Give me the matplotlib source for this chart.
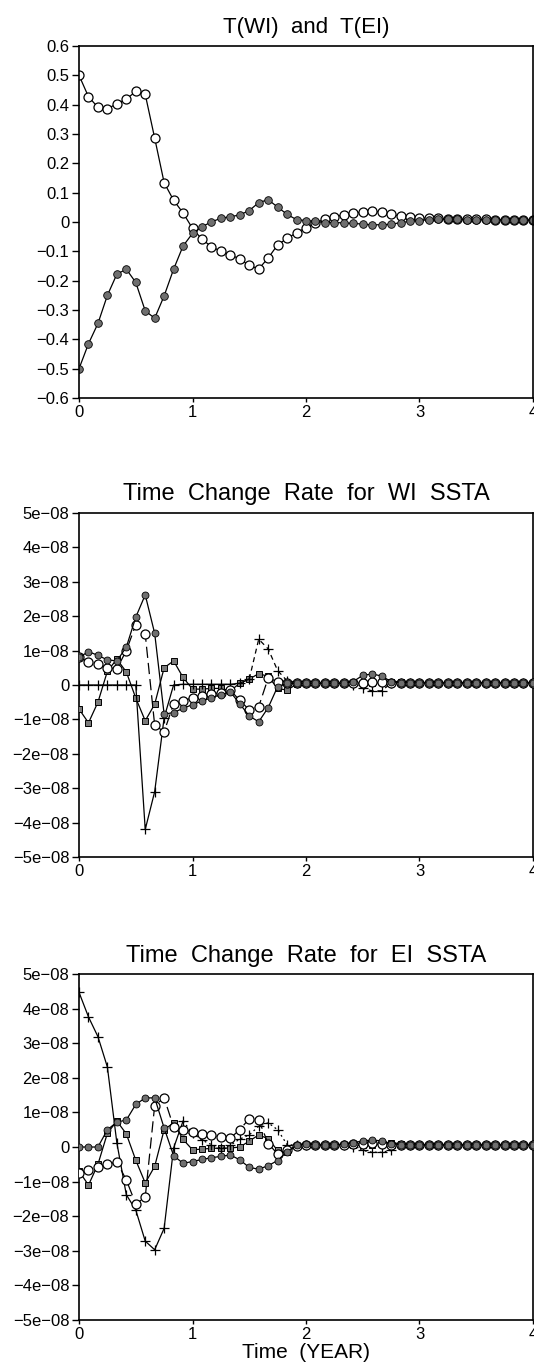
import numpy as np
import matplotlib
matplotlib.use("Agg")
import matplotlib.pyplot as plt
from matplotlib.ticker import FixedLocator, FixedFormatter

plt.rcParams["font.family"] = ["Liberation Sans", "DejaVu Sans"]

# monthly steps over 4 years
months = list(range(49))

# top panel: T(WI) open circles, T(EI) filled circles
t_wi = [0.50, 0.427, 0.391, 0.386, 0.403, 0.419, 0.445, 0.435, 0.286, 0.134, 0.074, 0.031, -0.022,
        -0.059, -0.084, -0.100, -0.112, -0.126, -0.148, -0.160, -0.123, -0.078, -0.056, -0.037, -0.019, -0.002,
        0.009, 0.018, 0.024, 0.030, 0.034, 0.038, 0.033, 0.026, 0.020, 0.016, 0.014, 0.013,
        0.012, 0.011, 0.010, 0.010, 0.009, 0.009, 0.008, 0.008, 0.007, 0.007, 0.006]
t_ei = [-0.50, -0.415, -0.346, -0.250, -0.178, -0.161, -0.206, -0.303, -0.328, -0.252, -0.161, -0.082, -0.039,
        -0.016, 0.000, 0.013, 0.018, 0.024, 0.039, 0.066, 0.076, 0.051, 0.026, 0.008, 0.005, 0.002,
        -0.002, -0.002, -0.003, -0.005, -0.007, -0.010, -0.009, -0.008, -0.002, 0.002, 0.005, 0.008,
        0.009, 0.009, 0.009, 0.008, 0.008, 0.008, 0.007, 0.007, 0.007, 0.007, 0.006]

# middle panel: WI SSTA rate terms (units 1e-08)
wi_total = [0.80, 0.97, 0.86, 0.73, 0.70, 1.10, 1.97, 2.62, 1.50, -0.85, -0.80, -0.68, -0.57,
            -0.47, -0.37, -0.28, -0.20, -0.55, -0.90, -1.07, -0.66, -0.05, 0.05, 0.05, 0.05, 0.05,
            0.05, 0.05, 0.05, 0.10, 0.28, 0.32, 0.26, 0.10, 0.07, 0.06, 0.06, 0.06,
            0.06, 0.06, 0.06, 0.06, 0.06, 0.06, 0.06, 0.06, 0.06, 0.06, 0.06]
wi_open = [0.80, 0.68, 0.60, 0.50, 0.47, 1.00, 1.75, 1.48, -1.17, -1.36, -0.55, -0.46, -0.37,
           -0.32, -0.27, -0.22, -0.15, -0.45, -0.72, -0.63, 0.20, 0.10, 0.06, 0.05, 0.05, 0.05,
           0.05, 0.05, 0.05, 0.05, 0.06, 0.08, 0.08, 0.06, 0.05, 0.05, 0.05, 0.05,
           0.05, 0.05, 0.05, 0.05, 0.05, 0.05, 0.05, 0.05, 0.05, 0.05, 0.05]
wi_square = [-0.70, -1.10, -0.50, 0.40, 0.75, 0.38, -0.38, -1.04, -0.56, 0.50, 0.70, 0.22, -0.12,
             -0.12, -0.10, -0.10, -0.17, 0.05, 0.17, 0.33, 0.25, -0.10, -0.15, 0.02, 0.05, 0.05,
             0.05, 0.05, 0.05, 0.05, 0.05, 0.05, 0.08, 0.10, 0.10, 0.06, 0.06, 0.06,
             0.06, 0.06, 0.06, 0.06, 0.06, 0.06, 0.06, 0.06, 0.06, 0.06, 0.06]
wi_plus = [0.0, 0.0, 0.0, 0.0, 0.0, 0.0, 0.0, -4.20, -3.10, -0.95, 0.0, 0.02, 0.02,
           0.02, 0.02, 0.02, 0.02, 0.05, 0.17, 1.33, 1.05, 0.42, 0.12, 0.07, 0.05, 0.05,
           0.05, 0.05, 0.05, 0.0, -0.10, -0.17, -0.17, 0.05, 0.06, 0.06, 0.06, 0.06,
           0.06, 0.06, 0.06, 0.06, 0.06, 0.06, 0.06, 0.06, 0.06, 0.06, 0.06]

# bottom panel: EI SSTA rate terms (units 1e-08)
ei_total = [0.0, 0.0, 0.0, 0.50, 0.72, 0.78, 1.23, 1.42, 1.42, 0.55, -0.25, -0.47, -0.42,
            -0.36, -0.31, -0.27, -0.23, -0.37, -0.59, -0.64, -0.54, -0.39, -0.13, 0.05, 0.08, 0.06,
            0.06, 0.06, 0.08, 0.12, 0.18, 0.20, 0.18, 0.10, 0.07, 0.06, 0.06, 0.06,
            0.06, 0.06, 0.06, 0.06, 0.06, 0.06, 0.06, 0.06, 0.06, 0.06, 0.06]
ei_open = [-0.75, -0.67, -0.58, -0.50, -0.43, -0.95, -1.65, -1.45, 1.20, 1.42, 0.58, 0.50, 0.44,
           0.39, 0.34, 0.29, 0.26, 0.50, 0.82, 0.78, 0.10, -0.20, -0.10, 0.02, 0.05, 0.05,
           0.05, 0.05, 0.05, 0.08, 0.10, 0.12, 0.10, 0.07, 0.05, 0.05, 0.05, 0.05,
           0.05, 0.05, 0.05, 0.05, 0.05, 0.05, 0.05, 0.05, 0.05, 0.05, 0.05]
ei_square = [-0.70, -1.10, -0.50, 0.40, 0.75, 0.38, -0.38, -1.04, -0.56, 0.50, 0.70, 0.22, -0.08,
             -0.06, -0.04, -0.03, -0.03, 0.00, 0.17, 0.35, 0.24, -0.10, -0.15, 0.03, 0.05, 0.05,
             0.05, 0.05, 0.05, 0.05, 0.05, 0.05, 0.10, 0.12, 0.10, 0.06, 0.06, 0.06,
             0.06, 0.06, 0.06, 0.06, 0.06, 0.06, 0.06, 0.06, 0.06, 0.06, 0.06]
ei_plus = [4.47, 3.76, 3.19, 2.31, 0.12, -1.38, -1.82, -2.72, -2.97, -2.35, -0.03, 0.75, 0.40,
           0.20, 0.07, -0.03, 0.05, 0.23, 0.35, 0.60, 0.70, 0.50, 0.07, 0.05, 0.05, 0.05,
           0.05, 0.05, 0.05, 0.0, -0.10, -0.15, -0.15, -0.10, 0.05, 0.06, 0.06, 0.06,
           0.06, 0.06, 0.06, 0.06, 0.06, 0.06, 0.06, 0.06, 0.06, 0.06, 0.06]

top_ticks = [-0.6, -0.5, -0.4, -0.3, -0.2, -0.1, 0.0, 0.1, 0.2, 0.3, 0.4, 0.5, 0.6]
top_labels = ["\u22120.6", "\u22120.5", "\u22120.4", "\u22120.3", "\u22120.2", "\u22120.1", "0",
              "0.1", "0.2", "0.3", "0.4", "0.5", "0.6"]
rate_ticks = [-5e-08, -4e-08, -3e-08, -2e-08, -1e-08, 0.0, 1e-08, 2e-08, 3e-08, 4e-08, 5e-08]
rate_labels = ["\u22125e\u221208", "\u22124e\u221208", "\u22123e\u221208", "\u22122e\u221208",
               "\u22121e\u221208", "0", "1e\u221208", "2e\u221208", "3e\u221208", "4e\u221208", "5e\u221208"]
year_ticks = [0, 1, 2, 3, 4]

t = np.array(months) / 12.0
GRAY = "#6f6f6f"
LW = 0.9


def style_axes(ax, yticks, ylabels, ylim, title, title_size):
    ax.set_xlim(0, 4)
    ax.set_ylim(*ylim)
    ax.xaxis.set_major_locator(FixedLocator(year_ticks))
    ax.xaxis.set_major_formatter(FixedFormatter([str(v) for v in year_ticks]))
    ax.yaxis.set_major_locator(FixedLocator(yticks))
    ax.yaxis.set_major_formatter(FixedFormatter(ylabels))
    ax.tick_params(axis="y", direction="out", length=5, width=1.0, labelsize=12, pad=2)
    ax.tick_params(axis="x", direction="out", length=3, width=1.0, labelsize=12, pad=2)
    for s in ax.spines.values():
        s.set_linewidth(1.2)
    ax.set_title(title, fontsize=title_size, pad=9)


def rate_panel(ax, total, opn, sq, plus, split, plus_dash, title):
    s = 1e-08
    ax.plot(t, np.array(sq) * s, "-", color="black", lw=LW, marker="s", ms=5,
            mfc="#7a7a7a", mec="black", mew=0.7, zorder=3)
    ax.plot(t[:split + 1], np.array(plus[:split + 1]) * s, "-", color="black", lw=LW, zorder=3)
    ax.plot(t[split:], np.array(plus[split:]) * s, color="black", lw=LW, dashes=plus_dash, zorder=3)
    ax.plot(t, np.array(plus) * s, ls="none", marker="+", ms=7, mec="black", mew=0.9, zorder=4)
    ax.plot(t, np.array(opn) * s, color="black", lw=LW, dashes=(9, 4), marker="o", ms=6.5,
            mfc="white", mec="black", mew=0.9, zorder=4)
    ax.plot(t, np.array(total) * s, "-", color="black", lw=LW, marker="o", ms=5,
            mfc=GRAY, mec="black", mew=0.6, zorder=5)
    style_axes(ax, rate_ticks, rate_labels, (-5e-08, 5e-08), title, 17)


fig = plt.figure(figsize=(5.34, 13.69), dpi=100)

ax1 = fig.add_axes([0.148, 0.7093, 0.850, 0.2571])
ax1.plot(t, t_wi, "-", color="black", lw=LW, marker="o", ms=6.5, mfc="white", mec="black", mew=0.9)
ax1.plot(t, t_ei, "-", color="black", lw=LW, marker="o", ms=5.5, mfc=GRAY, mec="black", mew=0.6)
style_axes(ax1, top_ticks, top_labels, (-0.6, 0.6), "T(WI)  and  T(EI)", 16)

ax2 = fig.add_axes([0.148, 0.3740, 0.850, 0.2513])
rate_panel(ax2, wi_total, wi_open, wi_square, wi_plus, 18, (4, 3), "Time  Change  Rate  for  WI  SSTA")

ax3 = fig.add_axes([0.148, 0.0358, 0.850, 0.2527])
rate_panel(ax3, ei_total, ei_open, ei_square, ei_plus, 11, (1.5, 2.5), "Time  Change  Rate  for  EI  SSTA")
ax3.set_xlabel("Time  (YEAR)", fontsize=15, labelpad=1)

fig.savefig("out.png", dpi=100)
